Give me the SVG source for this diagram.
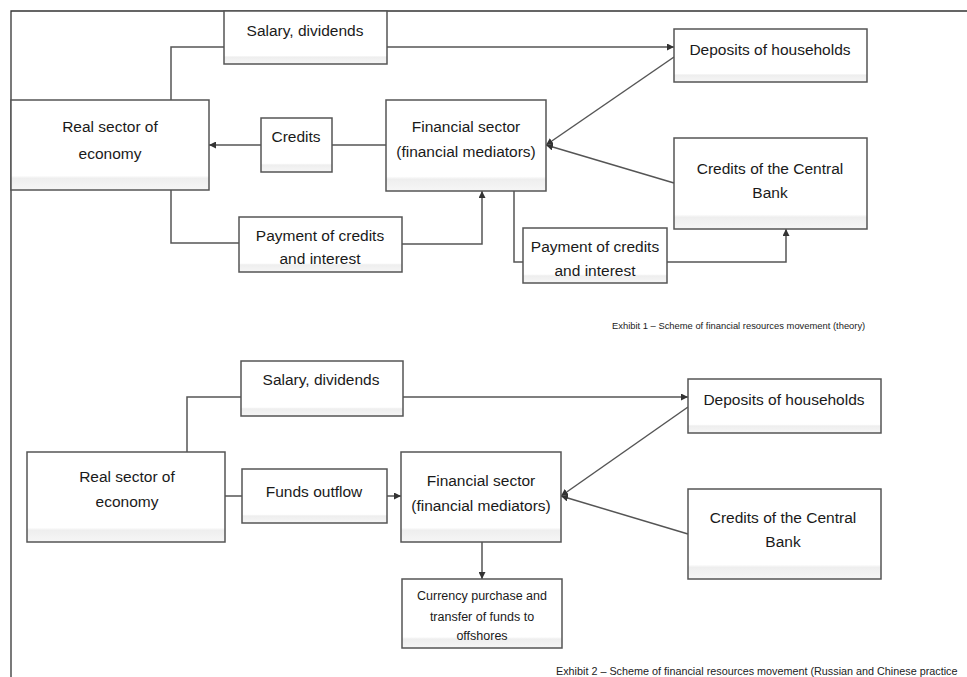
<svg xmlns="http://www.w3.org/2000/svg" width="967" height="677" viewBox="0 0 967 677">
<defs>
<linearGradient id="g" x1="0" y1="0" x2="0" y2="1">
<stop offset="0" stop-color="#ffffff"/>
<stop offset="0.84" stop-color="#ffffff"/>
<stop offset="0.87" stop-color="#eeeeee"/>
<stop offset="1" stop-color="#f6f6f6"/>
</linearGradient>
<marker id="a" viewBox="0 0 10 10" refX="10" refY="5" markerWidth="7" markerHeight="7" markerUnits="userSpaceOnUse" orient="auto">
<path d="M0,0 L10,5 L0,10 z" fill="#333"/>
</marker>
<style>
.b{fill:url(#g);stroke:#555;stroke-width:1.5}
.w{fill:#fff;stroke:none}
.t{font-family:"Liberation Sans",Arial,sans-serif;font-size:15.5px;fill:#1a1a1a;text-anchor:middle}
.c{font-family:"Liberation Sans",Arial,sans-serif;fill:#222}
.l{fill:none;stroke:#555;stroke-width:1.5}
.f{fill:none;stroke:#333;stroke-width:1.3}
</style>
</defs>
<rect width="967" height="677" fill="#fff"/>
<path class="f" d="M967,11 H11 V677"/>

<g id="connectors">
<path class="l" d="M171,100 V47 H224"/>
<path class="l" d="M387,47 H674" marker-end="url(#a)"/>
<path class="l" d="M386,145 H332"/>
<path class="l" d="M261,145 H209" marker-end="url(#a)"/>
<path class="l" d="M171,190 V243 H239"/>
<path class="l" d="M402,244 H482 V191" marker-end="url(#a)"/>
<path class="l" d="M514,191 V262 H523"/>
<path class="l" d="M667,262 H786 V229" marker-end="url(#a)"/>
<path class="l" d="M674,57 L546,145" marker-end="url(#a)"/>
<path class="l" d="M674,183 L546,145" marker-end="url(#a)"/>

<path class="l" d="M187,452 V397 H241"/>
<path class="l" d="M403,397 H688" marker-end="url(#a)"/>
<path class="l" d="M225,496 H242"/>
<path class="l" d="M387,496 H401" marker-end="url(#a)"/>
<path class="l" d="M482,542 V579" marker-end="url(#a)"/>
<path class="l" d="M688,407 L561,496" marker-end="url(#a)"/>
<path class="l" d="M688,534 L561,496" marker-end="url(#a)"/>
</g>

<g id="salary1"><rect class="b" x="224" y="11" width="163" height="53"/><text class="t" x="305" y="36">Salary, dividends</text></g>
<g id="real1"><rect class="b" x="11" y="100" width="198" height="90"/><text class="t" x="110" y="132">Real sector of</text><text class="t" x="110" y="159">economy</text></g>
<g id="credits1"><rect class="b" x="261" y="118" width="71" height="54"/><text class="t" x="296" y="142">Credits</text></g>
<g id="fin1"><rect class="b" x="386" y="100" width="160" height="91"/><text class="t" x="466" y="132">Financial sector</text><text class="t" x="466" y="157">(financial mediators)</text></g>
<g id="dep1"><rect class="b" x="674" y="29" width="193" height="53"/><text class="t" x="770" y="55">Deposits of households</text></g>
<g id="cb1"><rect class="b" x="674" y="138" width="193" height="91"/><rect class="w" x="687" y="153" width="168" height="58"/><text class="t" x="770" y="174">Credits of the Central</text><text class="t" x="770" y="198">Bank</text></g>
<g id="pay1"><rect class="b" x="239" y="217" width="163" height="55"/><text class="t" x="320" y="241">Payment of credits</text><text class="t" x="320" y="264">and interest</text></g>
<g id="pay2"><rect class="b" x="523" y="228" width="144" height="55"/><text class="t" x="595" y="252">Payment of credits</text><text class="t" x="595" y="276">and interest</text></g>

<text id="cap1" class="c" x="612" y="329" style="font-size:9.4px">Exhibit 1 – Scheme of financial resources movement (theory)</text>

<g id="salary2"><rect class="b" x="241" y="361" width="162" height="55"/><text class="t" x="321" y="385">Salary, dividends</text></g>
<g id="real2"><rect class="b" x="27" y="452" width="198" height="90"/><text class="t" x="127" y="482">Real sector of</text><text class="t" x="127" y="507">economy</text></g>
<g id="funds2"><rect class="b" x="242" y="469" width="145" height="54"/><text class="t" x="314" y="497">Funds outflow</text></g>
<g id="fin2"><rect class="b" x="401" y="452" width="160" height="90"/><text class="t" x="481" y="486">Financial sector</text><text class="t" x="481" y="511">(financial mediators)</text></g>
<g id="dep2"><rect class="b" x="688" y="379" width="193" height="54"/><text class="t" x="784" y="405">Deposits of households</text></g>
<g id="cb2"><rect class="b" x="688" y="489" width="193" height="90"/><rect class="w" x="698" y="504" width="170" height="58"/><text class="t" x="783" y="523">Credits of the Central</text><text class="t" x="783" y="547">Bank</text></g>
<g id="cur2"><rect class="b" x="402" y="579" width="160" height="69"/><text class="t" x="482" y="600" style="font-size:12.5px">Currency purchase and</text><text class="t" x="482" y="621" style="font-size:12.5px">transfer of funds to</text><text class="t" x="482" y="640" style="font-size:12.5px">offshores</text></g>

<text id="cap2" class="c" x="556" y="675" style="font-size:10.8px">Exhibit 2 – Scheme of financial resources movement (Russian and Chinese practice</text>
</svg>
